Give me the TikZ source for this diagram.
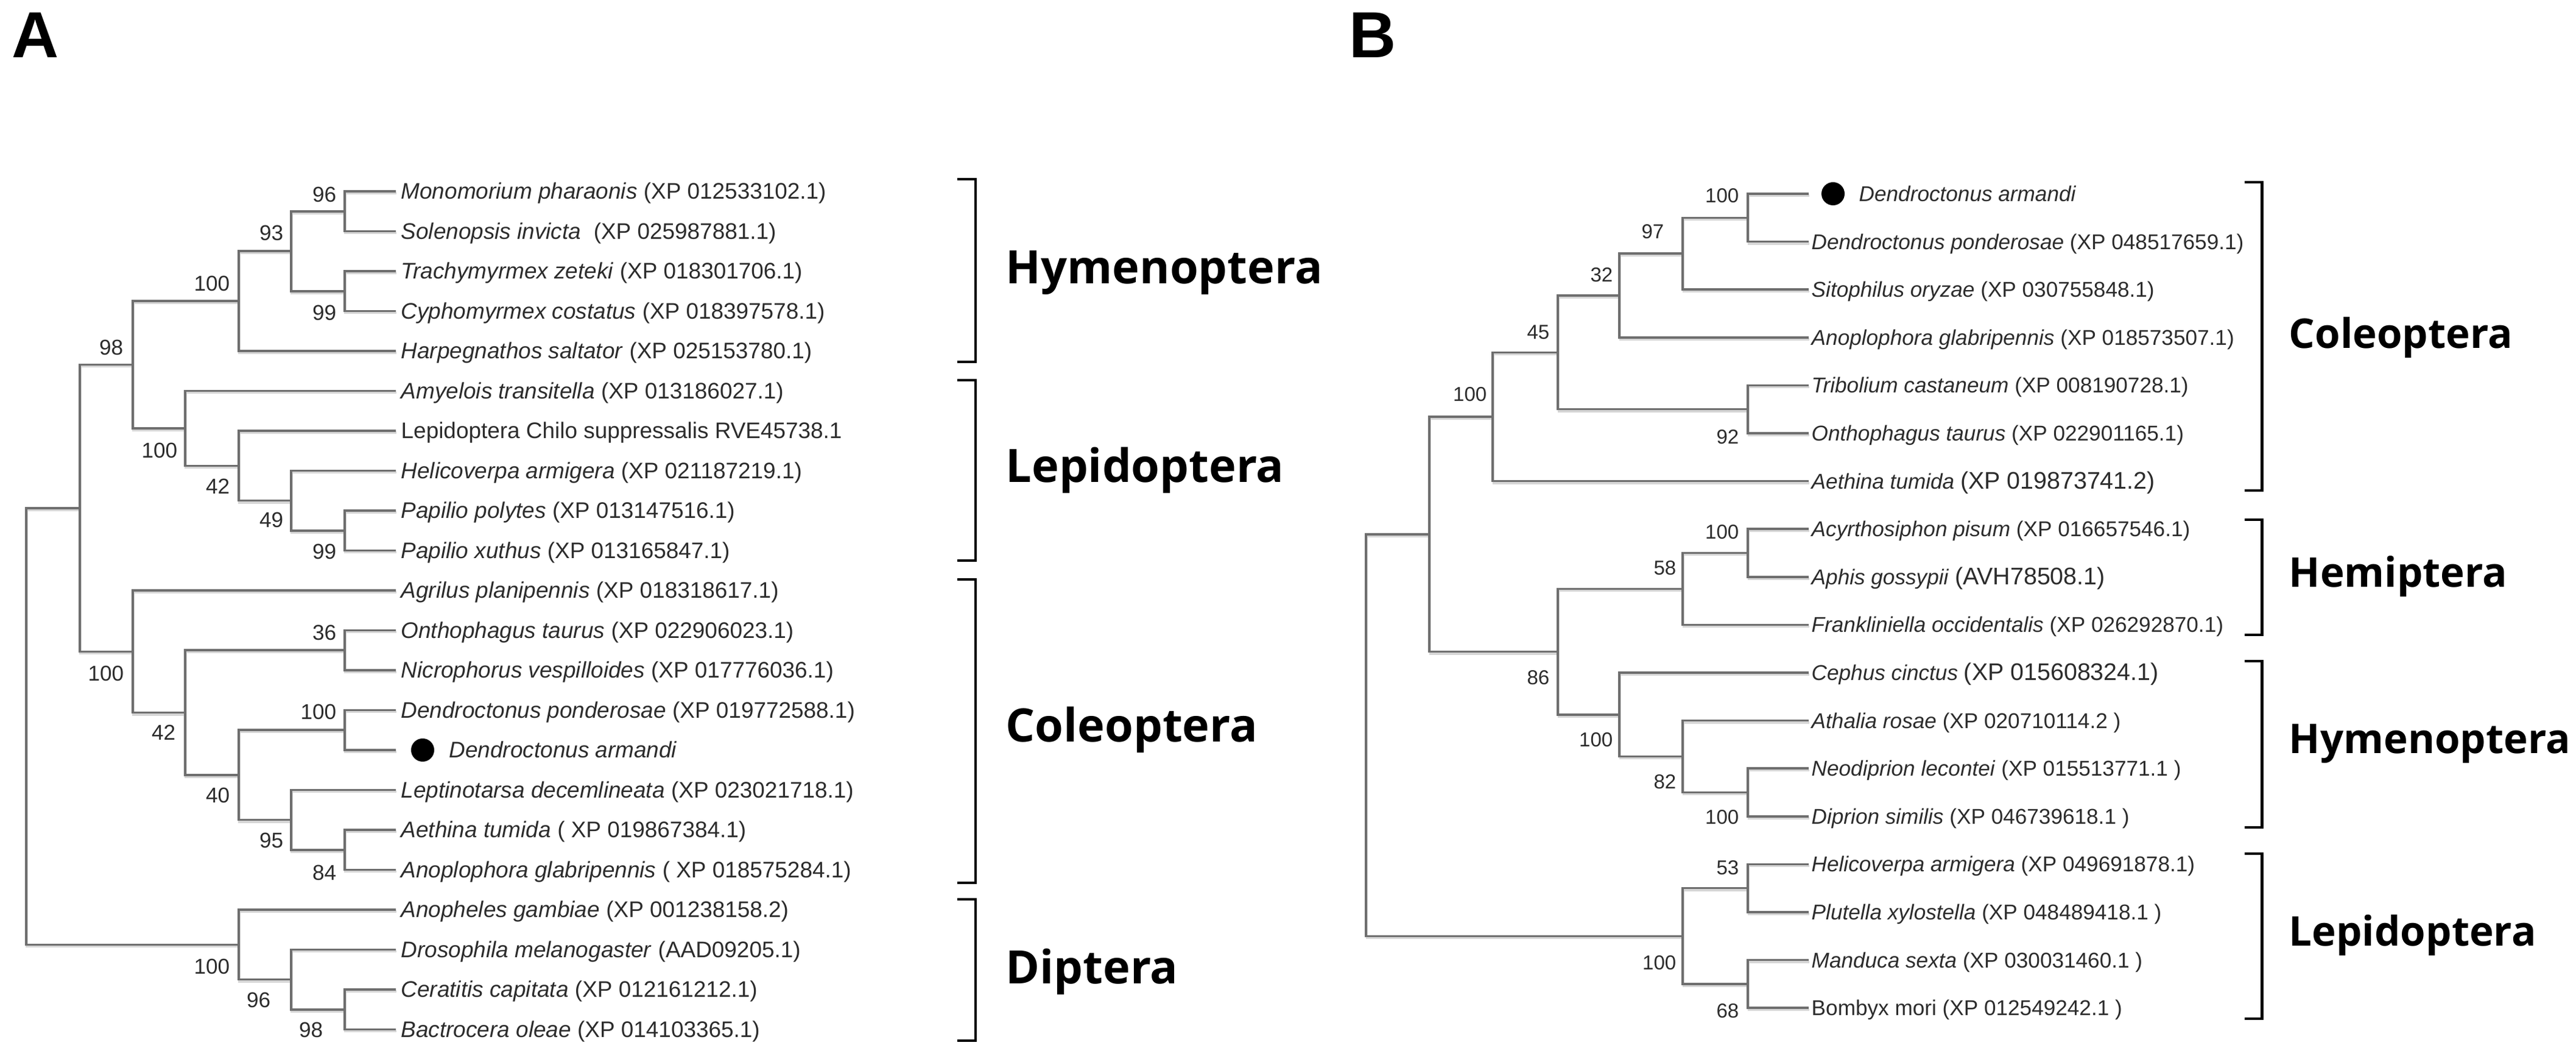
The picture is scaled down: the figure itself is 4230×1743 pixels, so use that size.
\documentclass[tikz,border=0pt]{standalone}
\usepackage{fontspec}
\setmainfont{Liberation Sans}
\newfontfamily\grpfont{Open Sans}
\definecolor{treegray}{HTML}{6E6E6E}
\definecolor{shadowgray}{HTML}{D6D6D6}
\definecolor{txtgray}{HTML}{2C2C2C}
\newcommand\treeAedges[1]{%
  \draw[#1] (LA0) -| (nMS) |- (LA1);
  \draw[#1] (LA2) -| (nTC) |- (LA3);
  \draw[#1] (nMS) -| (n93) |- (nTC);
  \draw[#1] (n93) -| (nHym) |- (LA4);
  \draw[#1] (LA8) -| (n99p) |- (LA9);
  \draw[#1] (LA7) -| (n49) |- (n99p);
  \draw[#1] (LA6) -| (n42) |- (n49);
  \draw[#1] (LA5) -| (nLep) |- (n42);
  \draw[#1] (nHym) -| (n98) |- (nLep);
  \draw[#1] (LA11) -| (n36) |- (LA12);
  \draw[#1] (LA13) -| (nDD) |- (LA14);
  \draw[#1] (LA16) -| (n84) |- (LA17);
  \draw[#1] (LA15) -| (n95) |- (n84);
  \draw[#1] (nDD) -| (n40) |- (n95);
  \draw[#1] (n36) -| (n42c) |- (n40);
  \draw[#1] (LA10) -| (nCol) |- (n42c);
  \draw[#1] (n98) -| (n131) |- (nCol);
  \draw[#1] (LA20) -| (n98d) |- (LA21);
  \draw[#1] (LA19) -| (n96d) |- (n98d);
  \draw[#1] (LA18) -| (nDip) |- (n96d);
  \draw[#1] (n131) -| (rootA) |- (nDip);
}
\newcommand\treeBedges[1]{%
  \draw[#1] (LB0) -| (nBa) |- (LB1);
  \draw[#1] (nBa) -| (nB97) |- (LB2);
  \draw[#1] (nB97) -| (nB32) |- (LB3);
  \draw[#1] (LB4) -| (nB92) |- (LB5);
  \draw[#1] (nB32) -| (nB45) |- (nB92);
  \draw[#1] (nB45) -| (nBcol) |- (LB6);
  \draw[#1] (LB7) -| (nBh) |- (LB8);
  \draw[#1] (nBh) -| (nB58) |- (LB9);
  \draw[#1] (LB12) -| (nBd) |- (LB13);
  \draw[#1] (LB11) -| (nB82) |- (nBd);
  \draw[#1] (LB10) -| (nBhy) |- (nB82);
  \draw[#1] (nB58) -| (nB86) |- (nBhy);
  \draw[#1] (nBcol) -| (nBin) |- (nB86);
  \draw[#1] (LB14) -| (nB53) |- (LB15);
  \draw[#1] (LB16) -| (nB68) |- (LB17);
  \draw[#1] (nB53) -| (nBl) |- (nB68);
  \draw[#1] (nBin) -| (rootB) |- (nBl);
}
\begin{document}
\begin{tikzpicture}[x=0.01cm,y=-0.01cm,
  br/.style={draw=treegray,line width=1pt},
  brshadow/.style={draw=shadowgray,line width=1pt},
  leafA/.style={anchor=west,inner sep=0pt,text height=0.716em,text depth=0pt,text=txtgray,font=\fontsize{10.5}{12}\selectfont},
  leafB/.style={anchor=west,inner sep=0pt,text height=0.716em,text depth=0pt,text=txtgray,font=\fontsize{10}{12}\selectfont},
  bsA/.style={anchor=east,inner sep=0pt,text height=0.716em,text depth=0pt,text=txtgray,font=\fontsize{10}{12}\selectfont},
  bsB/.style={anchor=east,inner sep=0pt,text height=0.716em,text depth=0pt,text=txtgray,font=\fontsize{9.4}{11}\selectfont},
  grpA/.style={anchor=west,inner sep=0pt,text height=0.714em,text depth=0pt,font=\grpfont\bfseries\fontsize{21.5}{24}\selectfont},
  grpB/.style={anchor=west,inner sep=0pt,text height=0.714em,text depth=0pt,font=\grpfont\bfseries\fontsize{19.1}{22}\selectfont},
  brk/.style={draw=black,line width=1.4pt},
  panel/.style={anchor=base west,inner sep=0pt,font=\bfseries\fontsize{30.4}{34}\selectfont},
  dot/.style={circle,fill=black,inner sep=0pt,minimum size=0.38cm},
  big/.style={}]
\useasboundingbox (0,0) rectangle (4230,1743);
\fill[white] (0,0) rectangle (4230,1743);

% ---------------- panel letters
\node[panel] (pA) at (19,95) {A};
\node[panel] (pB) at (2215,95) {B};

% ---------------- tree A coordinates
\coordinate (LA0) at (650,314);
\coordinate (LA1) at (650,379.5);
\coordinate (LA2) at (650,445);
\coordinate (LA3) at (650,510.5);
\coordinate (LA4) at (650,576);
\coordinate (LA5) at (650,641.5);
\coordinate (LA6) at (650,707);
\coordinate (LA7) at (650,772.5);
\coordinate (LA8) at (650,838);
\coordinate (LA9) at (650,903.5);
\coordinate (LA10) at (650,969);
\coordinate (LA11) at (650,1034.5);
\coordinate (LA12) at (650,1100);
\coordinate (LA13) at (650,1165.5);
\coordinate (LA14) at (650,1231);
\coordinate (LA15) at (650,1296.5);
\coordinate (LA16) at (650,1362);
\coordinate (LA17) at (650,1427.5);
\coordinate (LA18) at (650,1493);
\coordinate (LA19) at (650,1558.5);
\coordinate (LA20) at (650,1624);
\coordinate (LA21) at (650,1689.5);

\coordinate (nMS) at (566,346.75);
\coordinate (nTC) at (566,477.75);
\coordinate (n93) at (478,412.25);
\coordinate (nHym) at (392,494.1);
\coordinate (n99p) at (566,870.75);
\coordinate (n49) at (478,821.6);
\coordinate (n42) at (392,764.3);
\coordinate (nLep) at (304,702.9);
\coordinate (n98) at (218,598.5);
\coordinate (n36) at (566,1067.25);
\coordinate (nDD) at (566,1198.25);
\coordinate (n84) at (566,1394.75);
\coordinate (n95) at (478,1345.6);
\coordinate (n40) at (392,1271.9);
\coordinate (n42c) at (304,1169.6);
\coordinate (nCol) at (218,1069.3);
\coordinate (n131) at (131,833.9);
\coordinate (n98d) at (566,1656.75);
\coordinate (n96d) at (478,1607.6);
\coordinate (nDip) at (392,1550.3);
\coordinate (rootA) at (43,1192);

% ---------------- tree B coordinates
\coordinate (LB0) at (2970,318);
\coordinate (LB1) at (2970,396.6);
\coordinate (LB2) at (2970,475.2);
\coordinate (LB3) at (2970,553.8);
\coordinate (LB4) at (2970,632.4);
\coordinate (LB5) at (2970,711);
\coordinate (LB6) at (2970,789.6);
\coordinate (LB7) at (2970,868.2);
\coordinate (LB8) at (2970,946.8);
\coordinate (LB9) at (2970,1025.4);
\coordinate (LB10) at (2970,1104);
\coordinate (LB11) at (2970,1182.6);
\coordinate (LB12) at (2970,1261.2);
\coordinate (LB13) at (2970,1339.8);
\coordinate (LB14) at (2970,1418.4);
\coordinate (LB15) at (2970,1497);
\coordinate (LB16) at (2970,1575.6);
\coordinate (LB17) at (2970,1654.2);

\coordinate (nBa) at (2870,357.3);
\coordinate (nB97) at (2763,416.25);
\coordinate (nB32) at (2659,485);
\coordinate (nB92) at (2870,671.7);
\coordinate (nB45) at (2558,578.35);
\coordinate (nBcol) at (2451,684);
\coordinate (nBh) at (2870,907.5);
\coordinate (nB58) at (2763,966.45);
\coordinate (nBd) at (2870,1300.5);
\coordinate (nB82) at (2763,1241.55);
\coordinate (nBhy) at (2659,1172.8);
\coordinate (nB86) at (2558,1069.6);
\coordinate (nBin) at (2347,876.8);
\coordinate (nB53) at (2870,1457.7);
\coordinate (nB68) at (2870,1614.9);
\coordinate (nBl) at (2763,1536.3);
\coordinate (rootB) at (2243,1206.55);

% ---------------- branches (shadow, then line)
\begin{scope}[transform canvas={xshift=0.35pt,yshift=-0.9pt}]
  \treeAedges{brshadow}
  \treeBedges{brshadow}
\end{scope}
\treeAedges{br}
\treeBedges{br}

% ---------------- leaf labels A
\node[leafA] (tA0) at (658,314) {\textit{Monomorium pharaonis} (XP 012533102.1)};
\node[leafA] (tA1) at (658,379.5) {\textit{Solenopsis invicta}\ \ (XP 025987881.1)};
\node[leafA] (tA2) at (658,445) {\textit{Trachymyrmex zeteki} (XP 018301706.1)};
\node[leafA] (tA3) at (658,510.5) {\textit{Cyphomyrmex costatus} (XP 018397578.1)};
\node[leafA] (tA4) at (658,576) {\textit{Harpegnathos saltator} (XP 025153780.1)};
\node[leafA] (tA5) at (658,641.5) {\textit{Amyelois transitella} (XP 013186027.1)};
\node[leafA] (tA6) at (658,707) {Lepidoptera Chilo suppressalis RVE45738.1};
\node[leafA] (tA7) at (658,772.5) {\textit{Helicoverpa armigera} (XP 021187219.1)};
\node[leafA] (tA8) at (658,838) {\textit{Papilio polytes} (XP 013147516.1)};
\node[leafA] (tA9) at (658,903.5) {\textit{Papilio xuthus} (XP 013165847.1)};
\node[leafA] (tA10) at (658,969) {\textit{Agrilus planipennis} (XP 018318617.1)};
\node[leafA] (tA11) at (658,1034.5) {\textit{Onthophagus taurus} (XP 022906023.1)};
\node[leafA] (tA12) at (658,1100) {\textit{Nicrophorus vespilloides} (XP 017776036.1)};
\node[leafA] (tA13) at (658,1165.5) {\textit{Dendroctonus ponderosae} (XP 019772588.1)};
\node[dot] (dA) at (694,1231) {};
\node[leafA] (tA14) at (737,1231) {\textit{Dendroctonus armandi}};
\node[leafA] (tA15) at (658,1296.5) {\textit{Leptinotarsa decemlineata} (XP 023021718.1)};
\node[leafA] (tA16) at (658,1362) {\textit{Aethina tumida} ( XP 019867384.1)};
\node[leafA] (tA17) at (658,1427.5) {\textit{Anoplophora glabripennis} ( XP 018575284.1)};
\node[leafA] (tA18) at (658,1493) {\textit{Anopheles gambiae} (XP 001238158.2)};
\node[leafA] (tA19) at (658,1558.5) {\textit{Drosophila melanogaster} (AAD09205.1)};
\node[leafA] (tA20) at (658,1624) {\textit{Ceratitis capitata} (XP 012161212.1)};
\node[leafA] (tA21) at (658,1689.5) {\textit{Bactrocera oleae} (XP 014103365.1)};

% ---------------- support values A
\node[bsA] (sA1) at (553,319) {96};
\node[bsA] (sA2) at (466,382) {93};
\node[bsA] (sA3) at (378,465) {100};
\node[bsA] (sA4) at (203,570) {98};
\node[bsA] (sA5) at (553,513) {99};
\node[bsA] (sA6) at (292,739) {100};
\node[bsA] (sA7) at (378,798) {42};
\node[bsA] (sA8) at (466,853) {49};
\node[bsA] (sA9) at (553,905) {99};
\node[bsA] (sA10) at (553,1038) {36};
\node[bsA] (sA11) at (204,1105) {100};
\node[bsA] (sA12) at (289,1202) {42};
\node[bsA] (sA13) at (553,1168) {100};
\node[bsA] (sA14) at (378,1305) {40};
\node[bsA] (sA15) at (466,1379) {95};
\node[bsA] (sA16) at (553,1432) {84};
\node[bsA] (sA17) at (378,1586) {100};
\node[bsA] (sA18) at (445,1641) {96};
\node[bsA] (sA19) at (531,1690) {98};

% ---------------- brackets & groups A
\draw[brk] (1572,294) -| (1602,594) -- (1572,594);
\draw[brk] (1572,624) -| (1602,920) -- (1572,920);
\draw[brk] (1572,951) -| (1602,1449) -- (1572,1449);
\draw[brk] (1572,1476) -| (1602,1708) -- (1572,1708);
\node[grpA] (gA1) at (1651,453) {Hymenoptera};
\node[grpA] (gA2) at (1651,779) {Lepidoptera};
\node[grpA] (gA3) at (1651,1205) {Coleoptera};
\node[grpA] (gA4) at (1651,1602) {Diptera};

% ---------------- leaf labels B
\node[dot] (dB) at (3010,318) {};
\node[leafB] (tB0) at (3052,318) {\textit{Dendroctonus armandi}};
\node[leafB] (tB1) at (2974,396.6) {\textit{Dendroctonus ponderosae} (XP 048517659.1)};
\node[leafB] (tB2) at (2974,475.2) {\textit{Sitophilus oryzae} (XP 030755848.1)};
\node[leafB] (tB3) at (2974,553.8) {\textit{Anoplophora glabripennis} (XP 018573507.1)};
\node[leafB] (tB4) at (2974,632.4) {\textit{Tribolium castaneum} (XP 008190728.1)};
\node[leafB] (tB5) at (2974,711) {\textit{Onthophagus taurus} (XP 022901165.1)};
\node[leafB] (tB6) at (2974,789.6) {\textit{Aethina tumida} {\fontsize{11.2}{13}\selectfont(XP 019873741.2)}};
\node[leafB] (tB7) at (2974,868.2) {\textit{Acyrthosiphon pisum} (XP 016657546.1)};
\node[leafB] (tB8) at (2974,946.8) {\textit{Aphis gossypii} {\fontsize{11.2}{13}\selectfont(AVH78508.1)}};
\node[leafB] (tB9) at (2974,1025.4) {\textit{Frankliniella occidentalis} (XP 026292870.1)};
\node[leafB] (tB10) at (2974,1104) {\textit{Cephus cinctus} {\fontsize{11.2}{13}\selectfont(XP 015608324.1)}};
\node[leafB] (tB11) at (2974,1182.6) {\textit{Athalia rosae} (XP 020710114.2\ )};
\node[leafB] (tB12) at (2974,1261.2) {\textit{Neodiprion lecontei} (XP 015513771.1\ )};
\node[leafB] (tB13) at (2974,1339.8) {\textit{Diprion similis} (XP 046739618.1\ )};
\node[leafB] (tB14) at (2974,1418.4) {\textit{Helicoverpa armigera} (XP 049691878.1)};
\node[leafB] (tB15) at (2974,1497) {\textit{Plutella xylostella} (XP 048489418.1\ )};
\node[leafB] (tB16) at (2974,1575.6) {\textit{Manduca sexta} (XP 030031460.1\ )};
\node[leafB] (tB17) at (2974,1654.2) {Bombyx mori (XP 012549242.1\ )};

% ---------------- support values B
\node[bsB] (sB1) at (2856,320) {100};
\node[bsB] (sB2) at (2733,379) {97};
\node[bsB] (sB3) at (2649,450) {32};
\node[bsB] (sB4) at (2545,544) {45};
\node[bsB] (sB5) at (2442,646) {100};
\node[bsB] (sB6) at (2856,716) {92};
\node[bsB] (sB7) at (2856,872) {100};
\node[bsB] (sB8) at (2753,931) {58};
\node[bsB] (sB9) at (2545,1111) {86};
\node[bsB] (sB10) at (2649,1213) {100};
\node[bsB] (sB11) at (2753,1282) {82};
\node[bsB] (sB12) at (2856,1340) {100};
\node[bsB] (sB13) at (2856,1423) {53};
\node[bsB] (sB14) at (2753,1579) {100};
\node[bsB] (sB15) at (2856,1658) {68};

% ---------------- brackets & groups B
\draw[brk] (3686,299) -| (3714,805) -- (3686,805);
\draw[brk] (3686,853) -| (3714,1042) -- (3686,1042);
\draw[brk] (3686,1085) -| (3714,1358) -- (3686,1358);
\draw[brk] (3686,1401) -| (3714,1672) -- (3686,1672);
\node[grpB] (gB1) at (3758,559) {Coleoptera};
\node[grpB] (gB2) at (3758,951) {Hemiptera};
\node[grpB] (gB3) at (3758,1224) {Hymenoptera};
\node[grpB] (gB4) at (3758,1540) {Lepidoptera};
\end{tikzpicture}
\end{document}
